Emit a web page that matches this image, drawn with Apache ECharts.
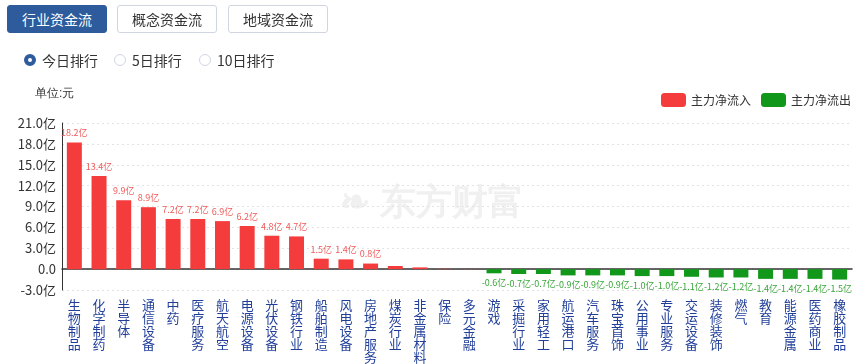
<!DOCTYPE html>
<html><head><meta charset="utf-8">
<script src="https://cdn.jsdelivr.net/npm/echarts@6/dist/echarts.min.js"></script>
<style>
html,body{margin:0;padding:0;background:#fff;font-family:"Noto Sans CJK SC","Noto Sans",sans-serif;}
#wrap{position:relative;width:865px;height:364px;overflow:hidden;}
#chart{position:absolute;left:0;top:0;width:865px;height:364px;}
.btn{position:absolute;top:5px;height:28px;width:100px;box-sizing:border-box;border:1px solid #cfd6e0;border-radius:3px;font-size:14px;line-height:26px;text-align:center;color:#333;background:#fff;}
.btn.on{background:#2d5b9c;border-color:#2d5b9c;color:#fff;}
.radio{position:absolute;top:50px;font-size:14px;line-height:20px;color:#333;}
.dot{position:absolute;top:4px;left:-18px;width:12px;height:12px;box-sizing:border-box;border-radius:50%;border:1px solid #cfd6e0;background:#fff;}
.dot.on{border:4px solid #2d5b9c;}
</style></head>
<body><div id="wrap">
<div id="chart"></div>
<div class="btn on" style="left:7px">行业资金流</div>
<div class="btn" style="left:117px">概念资金流</div>
<div class="btn" style="left:228px">地域资金流</div>
<div class="radio" style="left:42px"><span class="dot on"></span>今日排行</div>
<div class="radio" style="left:132px"><span class="dot"></span>5日排行</div>
<div class="radio" style="left:217px"><span class="dot"></span>10日排行</div>
</div>
<script>
var categories = ['生物制品','化学制药','半导体','通信设备','中药','医疗服务','航天航空','电源设备','光伏设备','钢铁行业','船舶制造','风电设备','房地产服务','煤炭行业','非金属材料','保险','多元金融','游戏','采掘行业','家用轻工','航运港口','汽车服务','珠宝首饰','公用事业','专业服务','交运设备','装修装饰','燃气','教育','能源金属','医药商业','橡胶制品'];
var values = [18.2,13.4,9.9,8.9,7.2,7.2,6.9,6.2,4.8,4.7,1.5,1.4,0.8,0.45,0.25,0.05,0.02,-0.6,-0.7,-0.7,-0.9,-0.9,-0.9,-1.0,-1.0,-1.1,-1.2,-1.2,-1.4,-1.4,-1.4,-1.5];
var showLabel = [1,1,1,1,1,1,1,1,1,1,1,1,1,0,0,0,0,1,1,1,1,1,1,1,1,1,1,1,1,1,1,1];
var yTicks = {min:-3, max:21, interval:3};
var legendNames = ['主力净流入','主力净流出'];

var inflow = values.map(function(v){return v>=0?v:'-';});
var outflow = values.map(function(v){return v<0?v:'-';});
function lbl(p){ return showLabel[p.dataIndex] ? p.value.toFixed(1)+'亿' : ''; }

var chart = echarts.init(document.getElementById('chart'));
chart.setOption({
  animation:false,
  textStyle:{fontFamily:'"Noto Sans CJK SC","Noto Sans",sans-serif'},
  graphic:[
    {type:'text',left:35,top:88,style:{text:'单位:元',fontSize:12,fill:'#333'}},
    {type:'text',left:340,top:186,z:-1,style:{text:'❧ 东方财富',fontSize:36,fontWeight:'bold',fill:'#f0f0f0'}}
  ],
  legend:{right:9,top:88,itemWidth:25,itemHeight:14,itemGap:10,
    textStyle:{fontSize:12,color:'#333'},data:legendNames},
  grid:{left:62,right:13,top:123,bottom:74,containLabel:false,outerBoundsMode:'none'},
  xAxis:{type:'category',data:categories,
    axisLine:{onZero:true,lineStyle:{color:'#333',width:1.5}},
    axisTick:{show:false},
    axisLabel:{interval:0,margin:9,fontSize:13,lineHeight:13,color:'#213f99',verticalAlign:'top',
      formatter:function(v){return v.split('').join('\n');}}
  },
  yAxis:{type:'value',min:yTicks.min,max:yTicks.max,interval:yTicks.interval,
    axisLine:{show:true,lineStyle:{color:'#333'}},
    axisTick:{show:false},
    axisLabel:{fontSize:13,color:'#333',margin:6,formatter:function(v){return v===0?'0.0':v.toFixed(1)+'亿';}},
    splitLine:{lineStyle:{color:'#e3e3e3',type:[2,3]}}
  },
  series:[
    {name:legendNames[0],type:'bar',stack:'a',barWidth:15,data:inflow,
     itemStyle:{color:'#f53c3c'},
     label:{show:true,position:'top',fontSize:9,color:'#ef5a5a',formatter:lbl}},
    {name:legendNames[1],type:'bar',stack:'a',barWidth:15,data:outflow,
     itemStyle:{color:'#11981a'},
     label:{show:true,position:'bottom',fontSize:9,color:'#3aa63a',formatter:lbl}}
  ]
});
</script></body></html>
